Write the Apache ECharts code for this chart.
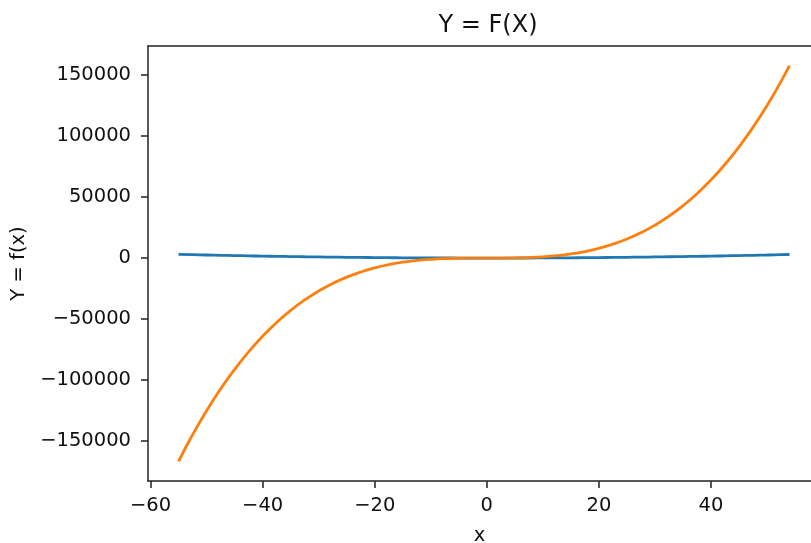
<!DOCTYPE html>
<html>
<head>
<meta charset="utf-8">
<script src="https://cdn.jsdelivr.net/npm/echarts@6/dist/echarts.min.js"></script>
<style>
  html, body { margin: 0; padding: 0; background: #fff; }
  #chart { width: 811px; height: 543px; }
</style>
</head>
<body>
<div id="chart"></div>
<script>
(function () {
    // values
    var xs = [-55, -52.5, -50, -47.5, -45, -42.5, -40, -37.5, -35, -32.5, -30, -27.5,
              -25, -22.5, -20, -17.5, -15, -12.5, -10, -7.5, -5, -2.5, 0,
              2.5, 5, 7.5, 10, 12.5, 15, 17.5, 20, 22.5, 25, 27.5, 30,
              32.5, 35, 37.5, 40, 42.5, 45, 47.5, 50, 52.5, 54];
    var blue = [3025, 2756, 2500, 2256, 2025, 1806, 1600, 1406, 1225, 1056, 900, 756,
                625, 506, 400, 306, 225, 156, 100, 56, 25, 6, 0,
                6, 25, 56, 100, 156, 225, 306, 400, 506, 625, 756, 900,
                1056, 1225, 1406, 1600, 1806, 2025, 2256, 2500, 2756, 2916];
    var orange = [-166400, -144700, -125000, -107200, -91100, -76800, -64000, -52700, -42900, -34300, -27000, -20800,
                  -15600, -11400, -8000, -5360, -3380, -1950, -1000, -420, -125, -16, 0,
                  16, 125, 420, 1000, 1950, 3380, 5360, 8000, 11400, 15600, 20800, 27000,
                  34300, 42900, 52700, 64000, 76800, 91100, 107200, 125000, 144700, 157500];

    var font = 'DejaVu Sans';
    var ink = '#111';
    var spine = '#222';
    // the reference is cropped on the right, so the visible x range ends before the frame does
    var xMin = -60.45, xMax = 57.84;

    function pairs(ys) {
        return xs.map(function (x, i) { return [x, ys[i]]; });
    }
    function minus(v) {
        return v < 0 ? '\u2212' + Math.abs(v) : String(v);
    }

    var option = {
        backgroundColor: '#fff',
        animation: false,
        title: {
            text: 'Y = F(X)',
            left: 483,
            textAlign: 'center',
            top: 9,
            textStyle: { fontFamily: font, fontSize: 24, fontWeight: 'normal', color: ink }
        },
        grid: {
            left: 148,
            top: 46,
            right: 0,
            bottom: 62,
            containLabel: false,
            outerBoundsMode: 'none'
        },
        xAxis: [{
            type: 'value',
            min: xMin,
            max: xMax,
            splitNumber: 6,
            name: 'x',
            nameLocation: 'middle',
            nameGap: 45,
            nameTextStyle: { fontFamily: font, fontSize: 19.5, color: ink },
            splitLine: { show: false },
            axisLine: { onZero: false, lineStyle: { color: spine, width: 1.5 } },
            axisTick: { show: true, length: 7, lineStyle: { color: spine, width: 1.5 } },
            axisLabel: {
                showMinLabel: false, showMaxLabel: false,
                fontFamily: font, fontSize: 19.5, color: ink, margin: 15,
                formatter: minus
            }
        }, {
            // top spine only
            type: 'value',
            position: 'top',
            min: xMin,
            max: xMax,
            splitLine: { show: false },
            axisLine: { show: true, onZero: false, lineStyle: { color: spine, width: 1.5 } },
            axisTick: { show: false },
            axisLabel: { show: false }
        }],
        yAxis: {
            type: 'value',
            min: -182567,
            max: 173656,
            splitNumber: 7,
            name: 'Y = f(x)',
            nameLocation: 'middle',
            nameGap: 117,
            nameTextStyle: { fontFamily: font, fontSize: 19.5, color: ink },
            splitLine: { show: false },
            axisLine: { onZero: false, lineStyle: { color: spine, width: 1.5 } },
            axisTick: { show: true, length: 7, lineStyle: { color: spine, width: 1.5 } },
            axisLabel: {
                showMinLabel: false, showMaxLabel: false,
                fontFamily: font, fontSize: 19.5, color: ink, margin: 17,
                formatter: minus
            }
        },
        series: [{
            type: 'line',
            data: pairs(blue),
            smooth: true,
            showSymbol: false,
            lineStyle: { color: '#1f77b4', width: 2.8 }
        }, {
            type: 'line',
            data: pairs(orange),
            smooth: true,
            showSymbol: false,
            lineStyle: { color: '#ff7f0e', width: 2.8 }
        }]
    };

    var chart = echarts.init(document.getElementById('chart'));
    chart.setOption(option);
})();
</script>
</body>
</html>
